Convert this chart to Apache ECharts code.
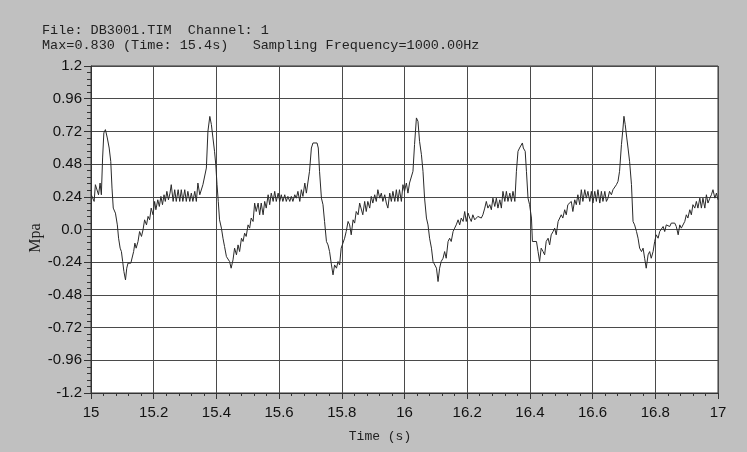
<!DOCTYPE html>
<html>
<head>
<meta charset="utf-8">
<script src="https://cdn.jsdelivr.net/npm/echarts@6/dist/echarts.min.js"></script>
<style>
html,body{margin:0;padding:0;background:#c0c0c0;}
#chart{width:747px;height:452px;}
</style>
</head>
<body>
<div id="chart"></div>
<script>
const headerLine1 = 'File: DB3001.TIM  Channel: 1';
const headerLine2 = 'Max=0.830 (Time: 15.4s)   Sampling Frequency=1000.00Hz';
const xAxisName = 'Time (s)';
const yAxisName = 'Mpa';
const xTickLabels = ['15','15.2','15.4','15.6','15.8','16','16.2','16.4','16.6','16.8','17'];
const yTickLabels = ['-1.2','-0.96','-0.72','-0.48','-0.24','0.0','0.24','0.48','0.72','0.96','1.2'];

const times = [
15.001,15.006,15.010,15.014,15.019,15.024,15.029,15.033,15.037,15.041,15.046,15.052,15.058,15.063,15.067,15.071,15.078,15.084,15.088,15.093,
15.097,15.101,15.105,15.110,15.114,15.118,15.127,15.132,15.136,15.140,15.144,15.150,15.155,15.161,15.166,15.171,15.177,15.182,15.187,15.192,
15.198,15.203,15.207,15.213,15.218,15.223,15.228,15.233,15.237,15.242,15.247,15.252,15.256,15.262,15.267,15.272,15.278,15.283,15.288,15.293,
15.299,15.304,15.309,15.315,15.320,15.325,15.331,15.336,15.341,15.347,15.352,15.357,15.363,15.368,15.373,15.379,15.384,15.389,15.394,15.398,
15.402,15.406,15.410,15.416,15.421,15.426,15.432,15.437,15.442,15.447,15.453,15.458,15.464,15.469,15.474,15.480,15.485,15.490,15.495,15.501,
15.506,15.511,15.517,15.522,15.527,15.533,15.538,15.543,15.549,15.554,15.559,15.565,15.570,15.575,15.581,15.586,15.591,15.597,15.602,15.607,
15.612,15.618,15.623,15.628,15.634,15.639,15.644,15.650,15.655,15.660,15.666,15.671,15.676,15.682,15.687,15.692,15.697,15.703,15.708,15.721,
15.725,15.729,15.735,15.740,15.745,15.751,15.756,15.761,15.767,15.772,15.777,15.783,15.788,15.793,15.798,15.804,15.809,15.814,15.820,15.825,
15.830,15.836,15.841,15.846,15.852,15.857,15.862,15.867,15.873,15.878,15.883,15.889,15.894,15.899,15.905,15.910,15.915,15.921,15.926,15.931,
15.937,15.942,15.947,15.953,15.958,15.963,15.969,15.974,15.979,15.984,15.990,15.995,16.000,16.006,16.011,16.016,16.022,16.027,16.032,16.038,
16.043,16.048,16.054,16.059,16.064,16.070,16.075,16.080,16.086,16.091,16.096,16.102,16.107,16.112,16.117,16.123,16.128,16.133,16.139,16.144,
16.149,16.155,16.160,16.165,16.171,16.176,16.181,16.187,16.192,16.197,16.203,16.208,16.213,16.218,16.224,16.229,16.234,16.240,16.245,16.250,
16.256,16.261,16.266,16.272,16.277,16.282,16.288,16.293,16.298,16.304,16.309,16.314,16.320,16.325,16.330,16.336,16.341,16.346,16.352,16.357,
16.362,16.367,16.373,16.376,16.379,16.385,16.389,16.394,16.399,16.405,16.408,16.421,16.426,16.431,16.436,16.442,16.447,16.452,16.458,16.463,
16.468,16.474,16.479,16.484,16.490,16.495,16.500,16.505,16.511,16.516,16.521,16.527,16.532,16.537,16.543,16.548,16.553,16.559,16.564,16.569,
16.575,16.580,16.585,16.591,16.596,16.601,16.607,16.612,16.617,16.623,16.628,16.633,16.639,16.644,16.649,16.654,16.660,16.665,16.670,16.676,
16.681,16.686,16.692,16.697,16.700,16.704,16.709,16.713,16.718,16.724,16.729,16.734,16.740,16.745,16.750,16.756,16.761,16.766,16.771,16.777,
16.782,16.787,16.793,16.798,16.803,16.809,16.814,16.819,16.825,16.830,16.835,16.841,16.846,16.851,16.857,16.862,16.867,16.873,16.878,16.883,
16.888,16.894,16.899,16.904,16.910,16.915,16.920,16.926,16.931,16.936,16.942,16.947,16.952,16.958,16.963,16.968,16.974,16.979,16.984,16.990,
16.995,17.000
];

const pressure = [
0.255,0.267,0.206,0.329,0.341,0.255,0.341,0.255,0.525,0.709,0.733,0.672,0.598,0.500,0.304,0.157,0.120,0.034,-0.064,-0.137,
-0.162,-0.235,-0.309,-0.370,-0.284,-0.247,-0.247,-0.235,-0.162,-0.100,-0.137,-0.088,-0.015,-0.051,-0.002,0.071,0.034,0.096,0.071,0.157,
0.108,0.206,0.145,0.218,0.169,0.243,0.182,0.255,0.206,0.280,0.218,0.267,0.329,0.206,0.292,0.206,0.292,0.206,0.292,0.206,
0.292,0.206,0.280,0.206,0.267,0.206,0.280,0.206,0.341,0.255,0.255,0.329,0.341,0.451,0.721,0.830,0.770,0.672,0.574,0.476,
0.329,0.206,0.071,0.010,-0.064,-0.125,-0.199,-0.211,-0.235,-0.284,-0.223,-0.137,-0.186,-0.113,-0.162,-0.064,-0.088,-0.027,-0.051,0.034,
0.010,0.084,0.059,0.194,0.132,0.194,0.108,0.194,0.108,0.206,0.157,0.255,0.182,0.267,0.206,0.280,0.206,0.267,0.206,0.255,
0.206,0.255,0.206,0.243,0.206,0.243,0.206,0.255,0.230,0.280,0.206,0.292,0.243,0.341,0.267,0.267,0.427,0.598,0.635,0.635,
0.598,0.427,0.230,0.182,0.059,-0.088,-0.113,-0.162,-0.260,-0.333,-0.260,-0.284,-0.235,-0.260,-0.137,-0.137,-0.064,-0.015,0.059,0.034,
-0.039,0.071,0.047,0.132,0.108,0.194,0.182,0.108,0.206,0.132,0.206,0.157,0.243,0.194,0.255,0.206,0.292,0.230,0.267,0.206,
0.255,0.194,0.157,0.267,0.206,0.280,0.206,0.292,0.206,0.292,0.206,0.329,0.280,0.341,0.267,0.341,0.353,0.427,0.623,0.819,
0.794,0.647,0.549,0.427,0.230,0.084,0.034,-0.064,-0.137,-0.235,-0.247,-0.284,-0.382,-0.284,-0.235,-0.211,-0.162,-0.211,-0.088,-0.064,
-0.088,-0.015,0.010,0.034,0.071,0.034,0.084,0.059,0.132,0.059,0.120,0.084,0.059,0.108,0.071,0.059,0.096,0.108,0.084,0.108,
0.157,0.206,0.157,0.182,0.145,0.230,0.169,0.230,0.157,0.218,0.157,0.280,0.206,0.280,0.206,0.267,0.206,0.280,0.206,0.427,
0.574,0.598,0.610,0.635,0.598,0.574,0.427,0.230,0.182,0.084,-0.088,-0.088,-0.162,-0.235,-0.137,-0.162,-0.186,-0.088,-0.064,-0.113,
-0.039,-0.015,0.010,-0.039,0.059,0.071,0.108,0.084,0.145,0.108,0.182,0.169,0.206,0.132,0.218,0.182,0.255,0.182,0.292,0.206,
0.292,0.230,0.280,0.206,0.280,0.194,0.280,0.206,0.292,0.194,0.280,0.206,0.280,0.206,0.230,0.280,0.255,0.292,0.304,0.329,
0.353,0.427,0.623,0.745,0.831,0.770,0.672,0.598,0.500,0.329,0.059,0.034,-0.015,-0.064,-0.137,-0.162,-0.137,-0.211,-0.284,-0.186,
-0.162,-0.211,-0.162,-0.088,-0.039,-0.064,-0.015,-0.002,0.022,-0.015,0.034,0.047,0.022,0.047,0.034,0.047,0.022,-0.039,0.034,0.010,
0.022,0.059,0.108,0.084,0.145,0.108,0.182,0.157,0.206,0.157,0.230,0.157,0.230,0.157,0.255,0.194,0.230,0.255,0.292,0.230,
0.267,0.218
];

const xMin = 15, xMax = 17, xStep = 0.2;
const yMin = -1.2, yMax = 1.2, yStep = 0.24;

const seriesData = times.map((t, i) => [t, pressure[i]]);

const chart = echarts.init(document.getElementById('chart'), null, {renderer: 'canvas'});
const axisFont = {fontFamily: 'Liberation Sans, Arial, sans-serif', fontSize: 15, color: '#111'};

chart.setOption({
  backgroundColor: '#c0c0c0',
  animation: false,
  grid: {left: 91, right: 29, top: 66, bottom: 59, show: true, backgroundColor: '#ffffff', borderColor: '#333', borderWidth: 1},
  xAxis: {
    type: 'value', min: xMin, max: xMax, interval: xStep,
    axisLine: {show: true, onZero: false, lineStyle: {color: '#333'}},
    axisTick: {show: true, inside: false, length: 6, lineStyle: {color: '#333'}},
    minorTick: {show: true, splitNumber: 5, length: 3, lineStyle: {color: '#333'}},
    splitLine: {show: true, lineStyle: {color: '#4a4a4a', width: 1}},
    axisLabel: Object.assign({margin: 12, formatter: v => xTickLabels[Math.round((v - xMin) / xStep)]}, axisFont)
  },
  yAxis: {
    type: 'value', min: yMin, max: yMax, interval: yStep,
    axisLine: {show: true, lineStyle: {color: '#333'}},
    axisTick: {show: true, inside: false, length: 7, lineStyle: {color: '#333'}},
    minorTick: {show: true, splitNumber: 5, length: 4, lineStyle: {color: '#333'}},
    splitLine: {show: true, lineStyle: {color: '#4a4a4a', width: 1}},
    axisLabel: Object.assign({margin: 9, formatter: v => yTickLabels[Math.round((v - yMin) / yStep)]}, axisFont)
  },
  graphic: [
    {type: 'text', left: 42, top: 23, style: {text: headerLine1, font: '13.5px "Liberation Mono", monospace', fill: '#222'}},
    {type: 'text', left: 42, top: 38, style: {text: headerLine2, font: '13.5px "Liberation Mono", monospace', fill: '#222'}},
    {type: 'text', x: 380, y: 437, style: {text: xAxisName, font: '13px "Liberation Mono", monospace', fill: '#222', align: 'center', verticalAlign: 'middle'}},
    {type: 'text', x: 36, y: 238, rotation: Math.PI / 2, style: {text: yAxisName, font: '16px "Liberation Serif", serif', fill: '#222', align: 'center', verticalAlign: 'middle'}}
  ],
  series: [{
    type: 'line', data: seriesData, showSymbol: false, symbol: 'none',
    lineStyle: {color: '#2a2a2a', width: 1}, silent: true
  }]
});
</script>
</body>
</html>
